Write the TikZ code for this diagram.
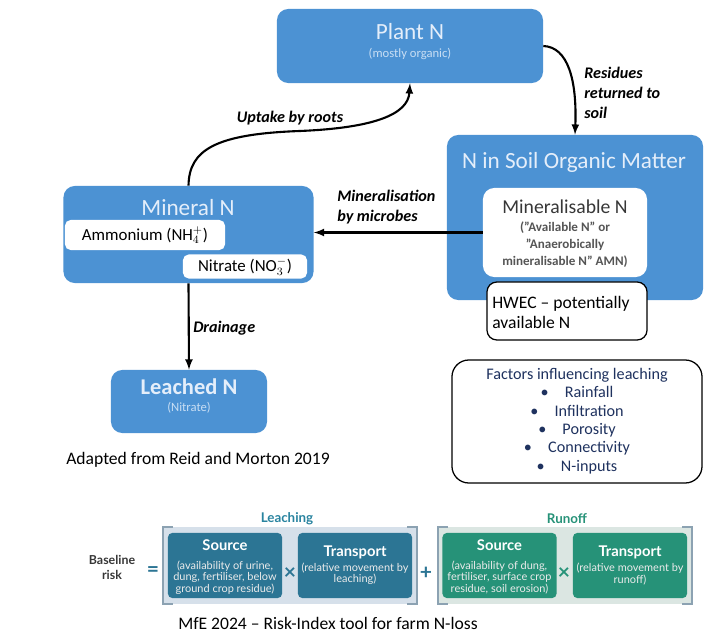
\documentclass[tikz,border=0pt]{standalone}
\usepackage{fontspec}
\setmainfont{Carlito}
\newfontfamily\latofont{Lato}
\usetikzlibrary{arrows}

\definecolor{nblue}{RGB}{76,146,211}
\definecolor{ntitle}{RGB}{228,238,250}
\definecolor{nsub}{RGB}{200,222,244}
\definecolor{ngrey}{RGB}{55,55,55}
\definecolor{nnavy}{RGB}{31,50,95}
\definecolor{lteal}{RGB}{44,117,148}
\definecolor{lback}{RGB}{214,224,234}
\definecolor{rgreen}{RGB}{38,146,120}
\definecolor{rback}{RGB}{219,230,226}
\definecolor{brk}{RGB}{140,162,178}

\begin{document}
\begin{tikzpicture}[x=0.025cm, y=-0.025cm,
  pool/.style={fill=nblue, rounded corners=8pt, inner sep=0pt},
  wbox/.style={fill=white, rounded corners=4pt, inner sep=0pt},
  lbox/.style={fill=white, draw=black, line width=0.9pt, rounded corners=7pt, inner sep=0pt},
  flow/.style={line width=1.5pt, -latex},
  flowlab/.style={font=\fontsize{11.5}{14}\selectfont\bfseries\itshape, align=left, inner sep=0pt},
  pooltitle/.style={font=\fontsize{16.5}{18}\selectfont, text=ntitle, inner sep=0pt},
  poolsub/.style={font=\fontsize{9}{10}\selectfont, text=nsub, inner sep=0pt},
  rbox/.style={rounded corners=3pt, inner sep=0pt, minimum width=2.85cm, minimum height=1.625cm},
  rhead/.style={font=\latofont\bfseries\fontsize{10.5}{12}\selectfont, text=white, inner sep=0pt},
  rtext/.style={font=\latofont\fontsize{7.8}{8.1}\selectfont, text=white!92!black, align=center, inner sep=0pt},
  rsym/.style={font=\latofont\bfseries\fontsize{15}{15}\selectfont, inner sep=0pt},
  rgroup/.style={inner sep=0pt, minimum width=6.35cm, minimum height=1.925cm},
  bracket/.style={draw=brk, line width=1.6pt},
]
\useasboundingbox (0,0) rectangle (704,636);

\node [pool, minimum width=6.65cm, minimum height=1.85cm] (plant) at (410,46) {};
\node [pooltitle] (plantT) at (410,32) {Plant N};
\node [poolsub] (plantS) at (410,54) {(mostly organic)};

\node [pool, minimum width=6.4cm, minimum height=4.125cm] (soil) at (575,217.5) {};
\node [pooltitle] (soilT) at (574,162) {N in Soil Organic Matter};
\node [wbox, rounded corners=8pt, minimum width=4.1cm, minimum height=2.225cm] (minable) at (565,232.5) {};
\node [font=\fontsize{14}{16}\selectfont, text=ngrey, inner sep=0pt] (minableT) at (565,207) {Mineralisable N};
\node [font=\fontsize{9.3}{12.2}\selectfont\bfseries, text=ngrey!85, align=center, inner sep=0pt] (minableS) at (565,244.5)
  {(\symbol{"22}Available N\symbol{"22} or\\\symbol{"22}Anaerobically\\mineralisable N\symbol{"22} AMN)};
\node [lbox, minimum width=4.0cm, minimum height=1.45cm] (hwec) at (567,311) {};
\node [font=\fontsize{12.5}{14.2}\selectfont, align=left, anchor=west, inner sep=0pt] (hwecT) at (492,312)
  {HWEC -- potentially\\available N};

\node [pool, minimum width=6.25cm, minimum height=2.425cm] (mineral) at (188.5,234.5) {};
\node [pooltitle] (mineralT) at (188,208) {Mineral N};
\node [wbox, minimum width=4.0cm, minimum height=0.75cm, font=\fontsize{12}{13}\selectfont] (ammon) at (145,235) {Ammonium (NH$_4^+$)};
\node [wbox, minimum width=3.1cm, minimum height=0.6cm, font=\fontsize{12}{13}\selectfont] (nitrate) at (245,266.5) {Nitrate (NO$_3^-$)};

\node [pool, minimum width=3.9cm, minimum height=1.575cm] (leached) at (189,401.5) {};
\node [pooltitle, font=\fontsize{16}{18}\selectfont\bfseries] (leachedT) at (189,387) {Leached N};
\node [poolsub] (leachedS) at (189,408) {(Nitrate)};

\draw [flow] (plant.east) .. controls (568,47) and (577,80) .. (soil.north);
\node [flowlab, anchor=west] (resid) at (584,93) {Residues\\returned to\\soil};

\draw [flow] (mineral.north) .. controls (189,150) and (215,134) .. (300,131)
  .. controls (372,128) and (408,115) .. (plant.south);
\node [flowlab] (uptake) at (290,118) {Uptake by roots};

\draw [flow] (minable.west) -- (minable.west -| mineral.east);
\node [flowlab, anchor=west] (minlab) at (337,207) {Mineralisation\\by microbes};

\draw [flow] (mineral.south) -- (leached.north);
\node [flowlab, anchor=west] (drain) at (193,328) {Drainage};

\node [lbox, rounded corners=12pt, minimum width=6.25cm, minimum height=3.075cm] (factors) at (577,421.5) {};
\node [font=\fontsize{11.5}{13.1}\selectfont, text=nnavy, align=center, inner sep=0pt] (factorsT) at (577,421)
  {Factors influencing leaching\\
   \textbullet\hspace{1em}Rainfall\\
   \textbullet\hspace{1em}Infiltration\\
   \textbullet\hspace{1em}Porosity\\
   \textbullet\hspace{1em}Connectivity\\
   \textbullet\hspace{1em}N-inputs};

\node [font=\fontsize{12.5}{14}\selectfont, anchor=west, inner sep=0pt] (reid) at (66,460) {Adapted from Reid and Morton 2019};

\node [font=\latofont\bfseries\fontsize{8.8}{10.7}\selectfont, text=ngrey, align=center, inner sep=0pt] (baseline) at (112,567) {Baseline\\risk};
\node [rsym, text=lteal] (equals) at (153,572) {=};

\node [rgroup, fill=lback] (lgroup) at (290,565.5) {};
\draw [bracket] ([xshift=7]lgroup.north west) -- (lgroup.north west) -- (lgroup.south west) -- ([xshift=7]lgroup.south west);
\draw [bracket] ([xshift=-7]lgroup.north east) -- (lgroup.north east) -- (lgroup.south east) -- ([xshift=-7]lgroup.south east);
\node [font=\latofont\bfseries\fontsize{9.5}{11}\selectfont, text=lteal!90!cyan, inner sep=0pt] (leachT) at (287,519) {Leaching};
\node [rbox, fill=lteal] (lsource) at (225,565.5) {};
\node [rhead] (lsourceT) at (225,545) {Source};
\node [rtext] (lsourceS) at (225,577.5) {(availability of urine,\\dung, fertiliser, below\\ground crop residue)};
\node [rsym, text=lteal] (ltimes) at (290,574) {×};
\node [rbox, fill=lteal] (ltrans) at (355,565.5) {};
\node [rhead] (ltransT) at (355,552) {Transport};
\node [rtext] (ltransS) at (355,574) {(relative movement by\\leaching)};

\node [rsym, text=lteal] (plus) at (426,573) {+};

\node [rgroup, fill=rback] (rgroupbox) at (565,565.5) {};
\draw [bracket] ([xshift=7]rgroupbox.north west) -- (rgroupbox.north west) -- (rgroupbox.south west) -- ([xshift=7]rgroupbox.south west);
\draw [bracket] ([xshift=-7]rgroupbox.north east) -- (rgroupbox.north east) -- (rgroupbox.south east) -- ([xshift=-7]rgroupbox.south east);
\node [font=\latofont\bfseries\fontsize{9.5}{11}\selectfont, text=rgreen, inner sep=0pt] (runoffT) at (567,519) {Runoff};
\node [rbox, fill=rgreen] (rsource) at (499.5,565.5) {};
\node [rhead] (rsourceT) at (499.5,545) {Source};
\node [rtext] (rsourceS) at (499.5,577.5) {(availability of dung,\\fertiliser, surface crop\\residue, soil erosion)};
\node [rsym, text=rgreen] (rtimes) at (564,574) {×};
\node [rbox, fill=rgreen] (rtrans) at (630,565.5) {};
\node [rhead] (rtransT) at (630,552) {Transport};
\node [rtext] (rtransS) at (630,574) {(relative movement by\\runoff)};

\node [font=\fontsize{12.5}{14}\selectfont, anchor=west, inner sep=0pt] (mfe) at (178,623) {MfE 2024 -- Risk-Index tool for farm N-loss};

\end{tikzpicture}
\end{document}
